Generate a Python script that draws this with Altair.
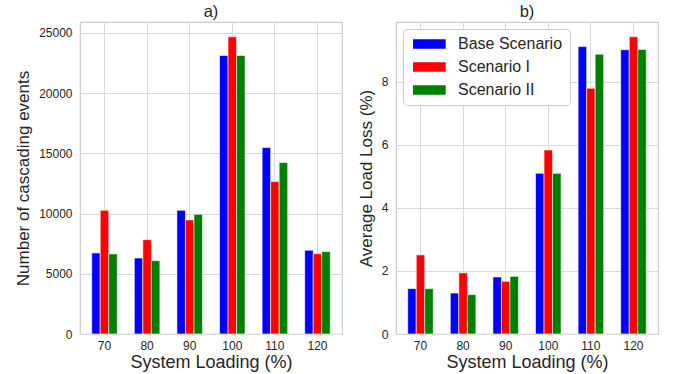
import altair as alt
import pandas as pd

loads = ["70", "80", "90", "100", "110", "120"]
scenarios = ["Base Scenario", "Scenario I", "Scenario II"]
colors = ["#0000ff", "#ff0000", "#008000"]

events_base = [6730, 6310, 10270, 23120, 15480, 6950]
events_s1 = [10270, 7830, 9470, 24670, 12650, 6670]
events_s2 = [6650, 6090, 9940, 23120, 14230, 6840]

loss_base = [1.44, 1.30, 1.81, 5.10, 9.12, 9.02]
loss_s1 = [2.51, 1.94, 1.67, 5.84, 7.80, 9.43]
loss_s2 = [1.44, 1.25, 1.83, 5.10, 8.88, 9.03]


def long_table(series):
    rows = []
    for name, vals in zip(scenarios, series):
        for ld, v in zip(loads, vals):
            rows.append({"load": ld, "scenario": name, "value": v})
    return pd.DataFrame(rows)


df_events = long_table([events_base, events_s1, events_s2])
df_loss = long_table([loss_base, loss_s1, loss_s2])

FONT = "Liberation Sans"
TEXT = "#262626"
GRID = "#d9d9d9"


def panel(df, title, ytitle, ymax, yvals, legend):
    color_enc = alt.Color(
        "scenario:N",
        sort=scenarios,
        scale=alt.Scale(domain=scenarios, range=colors),
        legend=(
            alt.Legend(
                title=None,
                orient="none",
                legendX=7,
                legendY=7,
                symbolType="M-1,-0.95L5.54,-0.95L5.54,0.95L-1,0.95Z",
                symbolSize=100,
                symbolOffset=0,
                symbolStrokeWidth=0,
                labelFontSize=16,
                labelFont=FONT,
                labelColor=TEXT,
                labelOffset=32,
                rowPadding=7,
                padding=7,
                strokeColor="#cccccc",
                fillColor="white",
                cornerRadius=4,
            )
            if legend
            else None
        ),
    )
    return (
        alt.Chart(df)
        .mark_bar(stroke="white", strokeWidth=0.6)
        .encode(
            x=alt.X(
                "load:O",
                sort=loads,
                scale=alt.Scale(paddingInner=0.4, paddingOuter=0.275),
                axis=alt.Axis(
                    title="System Loading (%)",
                    titleFontSize=18,
                    labelAngle=0,
                    ticks=False,
                    domain=False,
                    grid=True,
                    bandPosition=0.5,
                    labelPadding=6,
                    titlePadding=2,
                ),
            ),
            xOffset=alt.XOffset(
                "scenario:N",
                sort=scenarios,
                scale=alt.Scale(paddingInner=0, paddingOuter=0),
            ),
            y=alt.Y(
                "value:Q",
                scale=alt.Scale(domain=[0, ymax], nice=False),
                axis=alt.Axis(
                    title=ytitle,
                    titleFontSize=17,
                    values=yvals,
                    format="d",
                    ticks=False,
                    domain=False,
                    grid=True,
                    labelPadding=8,
                    titlePadding=6,
                ),
            ),
            color=color_enc,
        )
        .properties(
            width=262,
            height=312,
            title=alt.TitleParams(title, fontSize=16.5, font=FONT, fontWeight="normal", color=TEXT, offset=2),
        )
    )


left = panel(df_events, "a)", "Number of cascading events", 25900,
             [0, 5000, 10000, 15000, 20000, 25000], False)
right = panel(df_loss, "b)", "Average Load Loss (%)", 9.90, [0, 2, 4, 6, 8], True)

chart = (
    alt.hconcat(left, right, spacing=13)
    .resolve_legend(color="independent")
    .resolve_scale(color="independent")
    .properties(padding={"left": 14, "top": 2, "right": 5, "bottom": 2}, background="white")
    .configure_view(stroke="#cccccc", strokeWidth=1.2)
    .configure_axis(
        labelFont=FONT,
        labelFontSize=12,
        labelColor=TEXT,
        titleFont=FONT,
        titleFontWeight="normal",
        titleColor=TEXT,
        gridColor=GRID,
        gridWidth=1,
    )
)

chart.save("out.html", embed_options={"renderer": "svg", "actions": False})
